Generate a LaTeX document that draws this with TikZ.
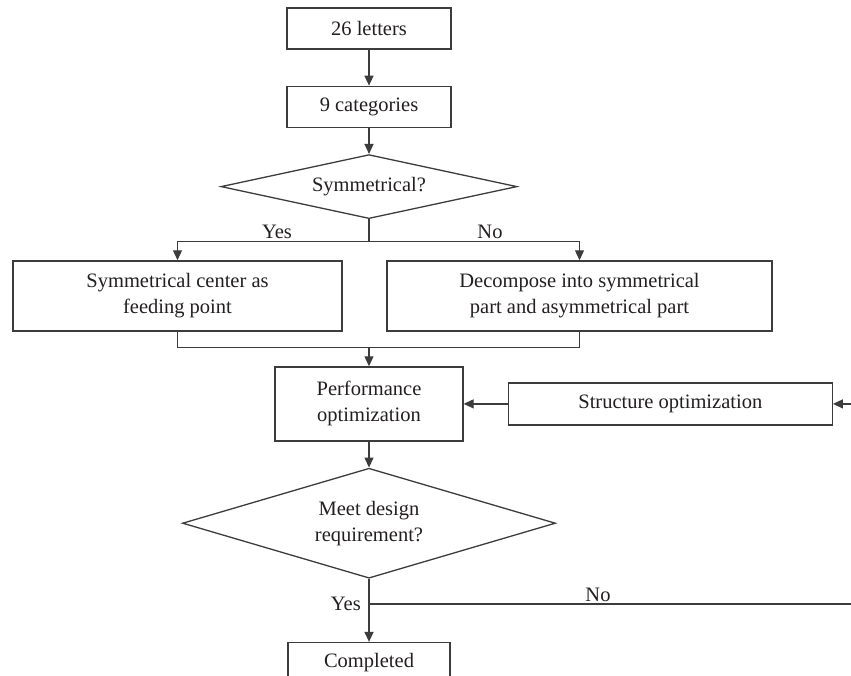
\documentclass[tikz,border=0pt]{standalone}
\usepackage{fontspec}
\setmainfont{Liberation Serif}
\usepackage{tikz}
\usetikzlibrary{arrows.meta,positioning,calc,shapes.geometric}
\definecolor{ink}{RGB}{35,31,32}
\definecolor{rule}{RGB}{60,60,60}
\tikzset{
  box/.style={draw=rule, line width=1.3pt, fill=white, align=center, text=ink,
    inner sep=0pt, font=\fontsize{20.5}{26}\selectfont},
  decide/.style={draw=rule, line width=1.3pt, diamond, fill=white, align=center, text=ink,
    inner sep=0pt, font=\fontsize{20.5}{26}\selectfont},
  flow/.style={draw=rule, line width=1.3pt, -{Triangle[length=10pt,width=9pt]}},
  link/.style={draw=rule, line width=1.3pt},
  lbl/.style={font=\fontsize{20.5}{26}\selectfont, text=ink, inner sep=2pt}
}
\begin{document}
\begin{tikzpicture}[x=1pt, y=1pt]
    \path[use as bounding box, clip] (0,0) rectangle (851,-675);

    \node[box, minimum width=164, minimum height=41] (letters) at (369,-28.5) {26 letters};
    \node[box, minimum width=164, minimum height=41, below=36pt of letters] (cats) {9 categories};
    \node[decide, aspect=4.6, minimum width=296, minimum height=64, below=26pt of cats] (sym) {Symmetrical?};
    \node[box, minimum width=329, minimum height=70, below=41pt of sym, xshift=-191.5pt] (feed)
      {Symmetrical center as\\feeding point};
    \node[box, minimum width=385, minimum height=70, below=41pt of sym, xshift=210.5pt] (dec)
      {Decompose into symmetrical\\part and asymmetrical part};
    \node[box, minimum width=188, minimum height=74, below=147pt of sym] (perf)
      {Performance\\optimization};
    \node[box, minimum width=324, minimum height=42, right=44pt of perf] (struct) {Structure optimization};
    \node[decide, aspect=3.4, minimum width=373, minimum height=110, below=26pt of perf] (meet)
      {Meet design\\requirement?};
    \node[box, minimum width=162, minimum height=40, below=63pt of meet] (done) {Completed};

    \draw[flow] (letters) -- (cats);
    \draw[flow] (cats) -- (sym);

    % branch after the symmetry test
    \coordinate (split) at ($(sym.south)+(0,-22)$);
    \draw[link] (sym.south) -- (split);
    \draw[flow] (split) -| (feed.north);
    \draw[flow] (split) -| (dec.north);
    \node[lbl, above] at ($(split)+(-92,0)$) {Yes};
    \node[lbl, above] at ($(split)+(121,0)$) {No};

    % merge into performance optimization
    \coordinate (merge) at ($(perf.north)+(0,19)$);
    \draw[link] (feed.south) |- (merge) -| (dec.south);
    \draw[flow] (merge) -- (perf.north);
    \draw[flow] (struct) -- (perf);
    \draw[flow] (perf) -- (meet);

    % check and loop back
    \coordinate (branch) at ($(meet.south)+(0,-25)$);
    \coordinate (back) at ($(branch)+(540,0)$);
    \draw[flow] (meet.south) -- (done.north);
    \draw[flow] (branch) -- (back) |- (struct.east);
    \node[lbl, left=6pt of branch] {Yes};
    \node[lbl, above] at ($(branch)+(229,0)$) {No};
  \end{tikzpicture}
\end{document}
